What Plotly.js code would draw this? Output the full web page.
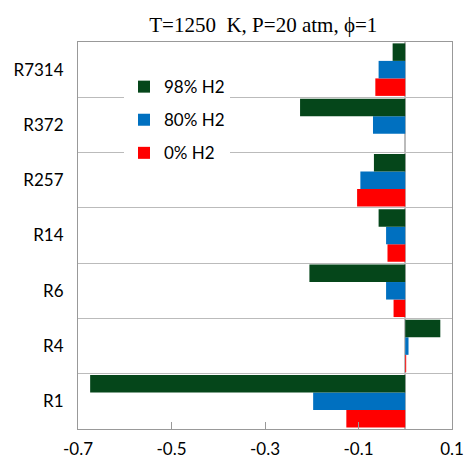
<!DOCTYPE html>
<html>
<head>
<meta charset="utf-8">
<script src="https://cdn.plot.ly/plotly-3.0.1.min.js"></script>
<style>html,body{margin:0;padding:0;background:#fff;}</style>
</head>
<body>
<div id="chart" style="width:466px;height:459px;"></div>
<script>
// Categories, bottom to top
const reactions = ['R1', 'R4', 'R6', 'R14', 'R257', 'R372', 'R7314'];
// Series values (sensitivity coefficients)
const h2_98 = [-0.674, 0.075, -0.205, -0.057, -0.067, -0.225, -0.027];
const h2_80 = [-0.197, 0.007, -0.041, -0.041, -0.096, -0.069, -0.057];
const h2_0  = [-0.126, 0.002, -0.025, -0.038, -0.103, 0.0, -0.064];
const seriesNames = ['98% H2', '80% H2', '0% H2'];
// X tick labels
const xTickVals = [-0.7, -0.5, -0.3, -0.1, 0.1];
const xTickText = ['-0.7', '-0.5', '-0.3', '-0.1', '0.1'];

const colors = ['#05461A', '#0070C0', '#FF0000'];
const font = 'Lato, "Open Sans", sans-serif';

function barTrace(vals, name, color, group, rank) {
  return {
    type: 'bar', orientation: 'h', y: reactions, x: vals, name: name,
    legendgroup: group, legendrank: rank, marker: {color: color, line: {width: 0}},
    hoverinfo: 'x+y+name'
  };
}

const data = [
  barTrace(h2_0, seriesNames[2], colors[2], 'c', 3),
  barTrace(h2_80, seriesNames[1], colors[1], 'b', 2),
  barTrace(h2_98, seriesNames[0], colors[0], 'a', 1)
];

const layout = {
  width: 466, height: 459,
  margin: {l: 78, r: 14, t: 42, b: 30, pad: 0},
  paper_bgcolor: '#fff', plot_bgcolor: '#fff',
  barmode: 'group', bargap: 0.05, bargroupgap: 0,
  showlegend: true,
  title: {
    text: 'T=1250\u00a0 K, P=20 atm, \u03d5=1',
    font: {family: '"Liberation Serif", "Times New Roman", serif', size: 21, color: '#000'},
    x: 0.565, xanchor: 'center', y: 0.947, yanchor: 'middle'
  },
  legend: {
    x: 0.123, xanchor: 'left', y: 0.93, yanchor: 'top',
    bgcolor: '#fff', borderwidth: 0,
    traceorder: 'grouped', tracegroupgap: 8,
    font: {family: font, size: 17, color: '#000'}
  },
  xaxis: {
    range: [-0.7, 0.1], tickvals: xTickVals, ticktext: xTickText,
    ticks: 'inside', ticklen: 7, tickcolor: '#999', tickwidth: 1,
    showgrid: false, zeroline: true, zerolinecolor: '#BBBBBB', zerolinewidth: 2,
    showline: true, linecolor: '#999', linewidth: 1, mirror: true,
    tickfont: {family: font, size: 17, color: '#000'}, ticklabelstandoff: 5, fixedrange: true
  },
  yaxis: {
    type: 'category', tickson: 'boundaries', ticks: '',
    showgrid: true, gridcolor: '#BBBBBB', gridwidth: 1,
    showline: true, linecolor: '#999', linewidth: 1, mirror: true,
    tickfont: {family: font, size: 17, color: '#000'}, ticklabelstandoff: 10, fixedrange: true
  }
};

Plotly.newPlot('chart', data, layout, {displayModeBar: false, staticPlot: true});
</script>
</body>
</html>
